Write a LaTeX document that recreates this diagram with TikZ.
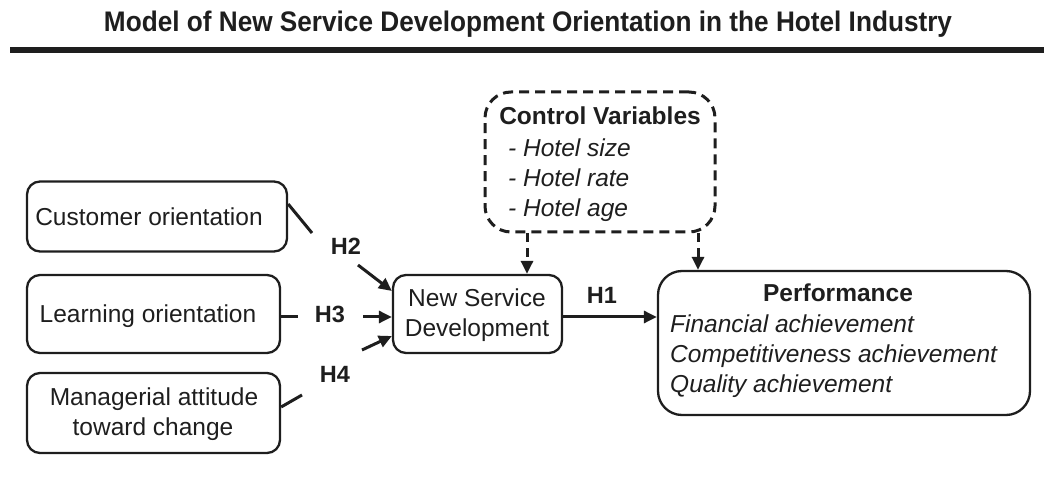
\documentclass[tikz,border=0pt]{standalone}
\usepackage{fontspec}
\setmainfont{Liberation Sans}
\usetikzlibrary{arrows.meta}
\definecolor{ink}{HTML}{1E1E1E}
\begin{document}
\begin{tikzpicture}[x=1pt,y=1pt,
  box/.style={draw=ink, line width=2.3pt, rounded corners=13pt, inner sep=0pt},
  bigbox/.style={draw=ink, line width=2.3pt, rounded corners=24pt, inner sep=0pt},
  dbox/.style={draw=ink, line width=3pt, rounded corners=26pt, dash pattern=on 10pt off 6pt, inner sep=0pt},
  txt/.style={font=\fontsize{24.5}{29}\selectfont, text=ink, anchor=base, inner sep=0pt},
  itxt/.style={txt, font=\fontsize{24.5}{29}\selectfont\itshape},
  btxt/.style={txt, font=\fontsize{24.5}{29}\selectfont\bfseries},
  hlab/.style={txt, font=\fontsize{23.5}{28}\selectfont\bfseries},
  conn/.style={draw=ink, line width=3pt},
  arr/.style={conn, -{Triangle[length=13pt,width=12pt]}},
  darr/.style={arr, dash pattern=on 9pt off 6pt}
]
\useasboundingbox (0,0) rectangle (1044,490);

% title and rule
\node[txt, anchor=base] (title) at (528,458)
  {\resizebox{848pt}{20.5pt}{\bfseries Model of New Service Development Orientation in the Hotel Industry}};
\fill[ink] (10,437) rectangle (1044,443);

% boxes
\node[box, minimum width=260pt, minimum height=70pt] (cust) at (157,273.5) {};
\node[box, minimum width=253pt, minimum height=78pt] (learn) at (153.5,176) {};
\node[box, minimum width=253pt, minimum height=80pt] (mgr) at (153.5,77) {};
\node[box, minimum width=169pt, minimum height=78pt] (nsd) at (477.5,176) {};
\node[dbox, minimum width=230pt, minimum height=140pt] (ctrl) at (600,328) {};
\node[bigbox, minimum width=372pt, minimum height=144pt] (perf) at (844,147) {};

% texts
\node[txt] (tcust) at (149,264) {Customer orientation};
\node[txt] (tlearn) at (148,167) {Learning orientation};
\node[txt] (tmgr1) at (154,84) {Managerial attitude};
\node[txt] (tmgr2) at (153,54) {toward change};
\node[txt] (tnsd1) at (477,183) {New Service};
\node[txt] (tnsd2) at (477,153) {Development};
\node[btxt] (tctrl) at (600,365) {Control Variables};
\node[itxt, anchor=base west] (cv1) at (508,333) {- Hotel size};
\node[itxt, anchor=base west] (cv2) at (508,303) {- Hotel rate};
\node[itxt, anchor=base west] (cv3) at (508,273) {- Hotel age};
\node[btxt] (tperf) at (838,188) {Performance};
\node[itxt, anchor=base west] (pf1) at (670,157) {Financial achievement};
\node[itxt, anchor=base west] (pf2) at (670,127) {Competitiveness achievement};
\node[itxt, anchor=base west] (pf3) at (670,97) {Quality achievement};

% hypothesis labels
\node[hlab] (h2) at (346,235) {H2};
\node[hlab] (h3) at (330,167) {H3};
\node[hlab] (h4) at (335,107) {H4};
\node[hlab] (h1) at (602,186) {H1};

% connector ends
\coordinate (c2a) at (cust.east |- 0,286);
\coordinate (c2b) at (312,257);
\coordinate (a2s) at (358,225);
\coordinate (a2e) at (nsd.west |- 0,199);
\coordinate (c3a) at (learn.east |- 0,173);
\coordinate (c3b) at (298,173);
\coordinate (a3s) at (363,173);
\coordinate (a3e) at (nsd.west |- 0,173);
\coordinate (c4a) at (mgr.east |- 0,83);
\coordinate (c4b) at (302,95);
\coordinate (a4s) at (362,140);
\coordinate (a4e) at (nsd.west |- 0,154);
\coordinate (a1s) at (nsd.east |- 0,173);
\coordinate (a1e) at (perf.west |- 0,173);
\coordinate (dls) at (527,0 |- ctrl.south);
\coordinate (dle) at (527,0 |- nsd.north);
\coordinate (drs) at (698,0 |- ctrl.south);
\coordinate (dre) at (698,0 |- perf.north);

% connectors
\draw[conn] (c2a) -- (c2b);
\draw[arr] (a2s) -- (a2e);
\draw[conn] (c3a) -- (c3b);
\draw[arr] (a3s) -- (a3e);
\draw[conn] (c4a) -- (c4b);
\draw[arr] (a4s) -- (a4e);
\draw[arr] (a1s) -- (a1e);
\draw[darr] (dls) -- (dle);
\draw[darr] (drs) -- (dre);
\end{tikzpicture}
\end{document}
